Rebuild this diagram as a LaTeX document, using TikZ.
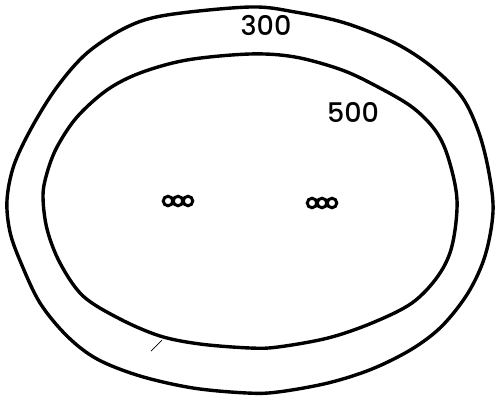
\documentclass[tikz,border=0pt]{standalone}
\usepackage{fontspec}
\setmainfont{Poppins}[UprightFont={* Medium}]
\begin{document}
\begin{tikzpicture}[x=1pt,y=-1pt,
  contour/.style={line width=3.4pt,line join=round},
  lbl/.style={font=\fontsize{27}{27}\selectfont,inner sep=0pt},
  ring/.style={circle,draw,line width=3pt,minimum size=9.5pt,inner sep=0pt}]
\useasboundingbox (0,0) rectangle (495,396);
% outer contour
\draw[contour] plot[smooth cycle,tension=0.55] coordinates {
 (250,7) (295,12) (345,23) (395,43) (432,67) (462,97) (479,133) (489,173)
 (493,212) (485,256) (468,293) (442,326) (412,349) (372,369) (328,383)
 (278,392) (247,393) (193,388) (140,376) (97,359) (67,336) (40,303)
 (21,263) (10,232) (7,200) (14,165) (32,127) (57,87) (87,53) (127,27) (167,15)};
% inner contour
\draw[contour] plot[smooth cycle,tension=0.55] coordinates {
 (250,54) (295,57) (342,70) (378,87) (412,107) (435,130) (448,157)
 (457,200) (452,246) (438,276) (412,303) (372,323) (328,338) (278,347)
 (250,348) (200,344) (160,336) (120,319) (83,296) (60,263) (47,229)
 (43,196) (47,173) (57,147) (77,117) (107,90) (140,73) (187,60)};
\node[lbl] (t300) at (266,25) {300};
\node[lbl] (t500) at (353,112) {500};
\node[ring] (a1) at (168,201) {};
\node[ring] (a2) at (178,201) {};
\node[ring] (a3) at (188,201) {};
\node[ring] (b1) at (312,203) {};
\node[ring] (b2) at (322,203) {};
\node[ring] (b3) at (332,203) {};
\coordinate (m1) at (151,351);
\coordinate (m2) at (162,340);
\draw[line width=0.7pt] (m1) -- (m2);
\end{tikzpicture}
\end{document}
